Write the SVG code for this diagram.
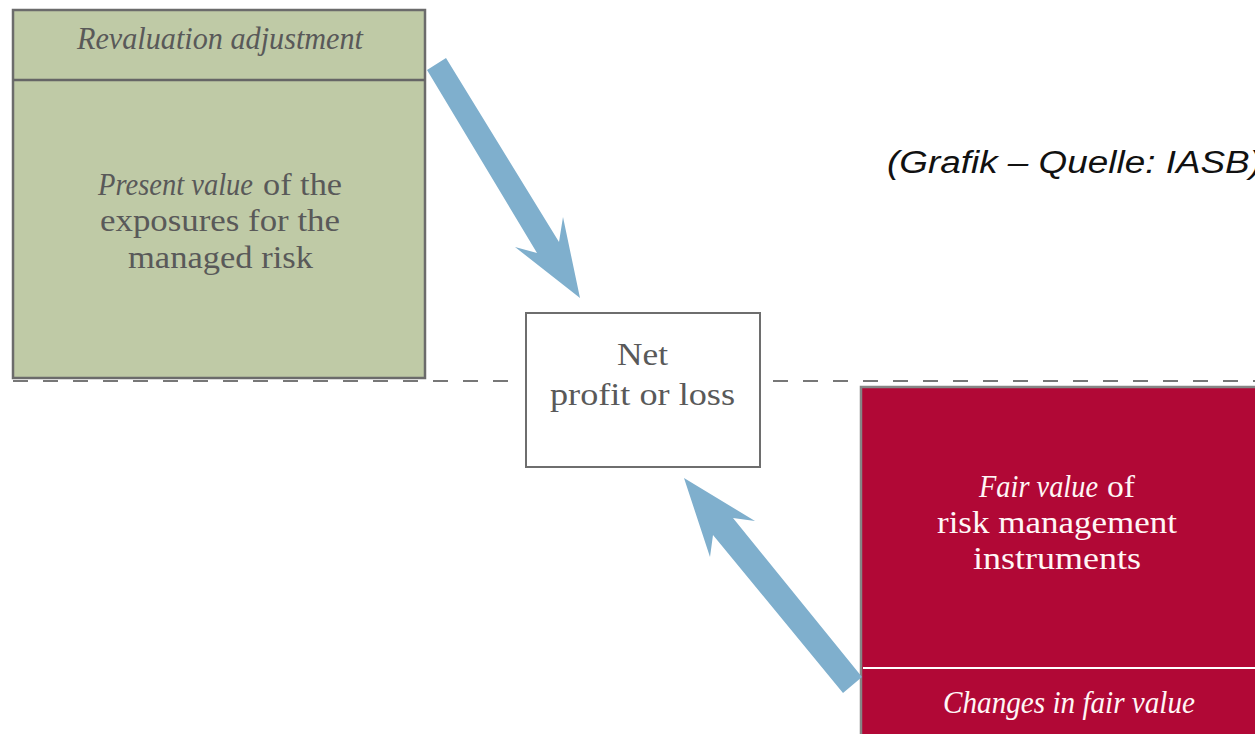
<svg xmlns="http://www.w3.org/2000/svg" width="1255" height="734" viewBox="0 0 1255 734">
<style>
.t{font-family:"Liberation Serif","Times New Roman",serif;font-size:31px;}
.i{font-style:italic;}
.g{fill:#595959;}
.w{fill:#fff6f6;}
.cap{font-family:"Liberation Sans",Arial,sans-serif;font-size:31px;font-style:italic;fill:#111;}
.arrow{fill:#7fafcd;}
.dash{stroke:#777;stroke-width:2.2;stroke-dasharray:15 15;fill:none;}
</style>
<rect width="1255" height="734" fill="#fff"/>
<g id="divider">
<line class="dash" x1="13" y1="381" x2="513" y2="381"/>
<line class="dash" x1="773" y1="381" x2="1255" y2="381"/>
</g>
<g id="hedged-item">
<rect x="13" y="10" width="412" height="368" fill="#bfcaa6" stroke="#6b6b6b" stroke-width="2.5"/>
<line x1="13" y1="80" x2="425" y2="80" stroke="#666" stroke-width="2.5"/>
<text class="t i g" x="77" y="49" textLength="286" lengthAdjust="spacingAndGlyphs">Revaluation adjustment</text>
<text class="t i g" x="98" y="195" textLength="155" lengthAdjust="spacingAndGlyphs">Present value</text>
<text class="t g" x="263" y="195" textLength="79" lengthAdjust="spacingAndGlyphs">of the</text>
<text class="t g" x="100" y="231" textLength="240" lengthAdjust="spacingAndGlyphs">exposures for the</text>
<text class="t g" x="128" y="268" textLength="185" lengthAdjust="spacingAndGlyphs">managed risk</text>
</g>
<g id="net-profit">
<rect x="526" y="313" width="234" height="154" fill="#fff" stroke="#6e6e6e" stroke-width="2"/>
<text class="t g" x="617" y="365" textLength="51" lengthAdjust="spacingAndGlyphs">Net</text>
<text class="t g" x="550" y="405" textLength="185" lengthAdjust="spacingAndGlyphs">profit or loss</text>
</g>
<g id="hedging-instrument">
<rect x="861" y="387" width="420" height="380" fill="#b10836" stroke="#858585" stroke-width="2.5"/>
<line x1="863" y1="668" x2="1255" y2="668" stroke="#fff" stroke-width="2"/>
<text class="t i w" x="979" y="497" textLength="119" lengthAdjust="spacingAndGlyphs">Fair value</text>
<text class="t w" x="1107" y="497" textLength="28" lengthAdjust="spacingAndGlyphs">of</text>
<text class="t w" x="937" y="533" textLength="240" lengthAdjust="spacingAndGlyphs">risk management</text>
<text class="t w" x="973" y="569" textLength="168" lengthAdjust="spacingAndGlyphs">instruments</text>
<text class="t i w" x="943" y="713" textLength="252" lengthAdjust="spacingAndGlyphs">Changes in fair value</text>
</g>
<g id="connectors">
<polygon class="arrow" points="427,70 537,253 515,247 580,298 563,217 559,242 446,58"/>
<polygon class="arrow" points="843,693 713,535 710,557 684,478 755,521 733,518 862,677"/>
</g>
<g id="caption">
<text class="cap" x="887" y="173" textLength="375" lengthAdjust="spacingAndGlyphs">(Grafik – Quelle: IASB)</text>
</g>
</svg>
